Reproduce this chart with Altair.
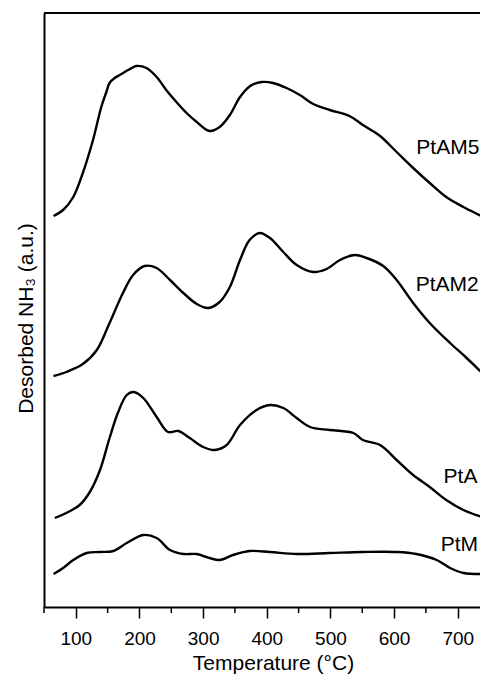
import altair as alt
import pandas as pd

# ---- data (temperature in °C, signal in a.u.) ----
series_names = ["PtAM5", "PtAM2", "PtA", "PtM"]

t_ptam5 = [65, 80, 96, 111, 127, 140, 148, 153, 161, 169, 185, 195, 211, 227, 242, 258, 274, 290, 310, 326,
           342, 358, 374, 392, 410, 431, 452, 473, 499, 530, 551, 578, 604, 630, 656, 682, 709, 740]
s_ptam5 = [391, 397, 410, 434, 467, 500, 515, 524, 529, 532, 538, 541, 539, 530, 517, 505, 494, 485, 476, 480,
           492, 510, 521, 525, 524, 519, 512, 503, 497, 491, 482, 471, 455, 439, 424, 410, 400, 390]

t_ptam2 = [65, 85, 111, 133, 153, 174, 190, 208, 227, 248, 269, 290, 308, 326, 342, 358, 373, 389,
           405, 426, 447, 473, 494, 515, 538, 557, 583, 604, 630, 656, 688, 714, 740]
s_ptam2 = [231, 235, 243, 257, 284, 314, 332, 341, 339, 327, 314, 303, 299, 305, 320, 347, 367, 374,
           369, 355, 342, 335, 338, 347, 352, 349, 341, 327, 304, 284, 264, 249, 233]

t_pta = [67, 85, 106, 122, 138, 153, 166, 180, 191, 206, 227, 245, 261, 279, 300, 318, 337, 358,
         384, 405, 426, 447, 468, 499, 536, 551, 578, 604, 630, 656, 682, 709, 743]
s_pta = [89, 94, 102, 115, 137, 169, 194, 212, 215, 209, 190, 175, 176, 169, 160, 157, 162, 182,
         197, 202, 199, 189, 180, 177, 174, 167, 162, 147, 132, 120, 107, 97, 89]

t_ptm = [65, 80, 96, 117, 138, 159, 180, 206, 227, 248, 269, 290, 310, 326, 347, 373, 405, 447,
         499, 551, 604, 635, 667, 688, 709, 743]
s_ptm = [33, 39, 47, 54, 55, 56, 64, 72, 69, 57, 53, 53, 49, 47, 52, 56, 55, 53,
         54, 55, 55, 53, 47, 39, 34, 33]

label_texts = ["PtAM5", "PtAM2", "PtA", "PtM"]
label_temps = [734, 733, 731, 732]
label_signals = [459, 322, 130, 62]

major_ticks = [100, 200, 300, 400, 500, 600, 700]
minor_ticks = [50, 150, 250, 350, 450, 550, 650]

# ---- tables ----
rows = []
for name, ts, ss in zip(series_names, [t_ptam5, t_ptam2, t_pta, t_ptm],
                        [s_ptam5, s_ptam2, s_pta, s_ptm]):
    for t, s in zip(ts, ss):
        rows.append({"series": name, "T": t, "S": s})
df = pd.DataFrame(rows)
labels_df = pd.DataFrame({"label": label_texts, "T": label_temps, "S": label_signals})
minor_df = pd.DataFrame({"T": minor_ticks})

FONT = "Liberation Sans"
W, H = 436, 594

x_scale = alt.Scale(domain=[50, 735], nice=False, zero=False)
y_scale = alt.Scale(domain=[0, 594], nice=False, zero=False)

x_axis = alt.Axis(
    values=major_ticks, title="Temperature (°C)", grid=False,
    domainColor="black", domainWidth=2, tickColor="black", tickWidth=1.5, tickSize=11,
    labelFont=FONT, labelFontSize=19, labelColor="black", labelPadding=11,
    titleFont=FONT, titleFontSize=21, titleFontWeight="normal", titleColor="black",
    titleX=229, titleY=62, titleBaseline="alphabetic", titleAlign="center",
)
y_axis = alt.Axis(
    labels=False, ticks=False, grid=False, title="Desorbed NH₃ (a.u.)",
    domainColor="black", domainWidth=2,
    titleFont=FONT, titleFontSize=21, titleFontWeight="normal", titleColor="black",
    titleX=-12, titleY=305, titleAngle=270, titleBaseline="alphabetic", titleAlign="center",
)

lines = alt.Chart(df).mark_line(
    color="black", strokeWidth=2.4, interpolate="catmull-rom", clip=True
).encode(
    x=alt.X("T:Q", scale=x_scale, axis=x_axis),
    y=alt.Y("S:Q", scale=y_scale, axis=y_axis),
    detail="series:N",
)

minor = alt.Chart(minor_df).mark_rule(color="black", strokeWidth=1.5).encode(
    x=alt.X("T:Q", scale=x_scale, axis=x_axis),
    y=alt.value(H),
    y2=alt.value(H + 6),
)

top_spine = alt.Chart(minor_df).mark_rule(color="black", strokeWidth=2).encode(
    x=alt.value(0), x2=alt.value(W), y=alt.value(0)
)

labels = alt.Chart(labels_df).mark_text(
    font=FONT, fontSize=21, color="black", align="right", baseline="middle"
).encode(
    x=alt.X("T:Q", scale=x_scale, axis=x_axis),
    y=alt.Y("S:Q", scale=y_scale, axis=y_axis),
    text="label:N",
)

chart = alt.layer(lines, minor, top_spine, labels).properties(
    width=W, height=H,
    padding={"left": 36, "top": 5, "right": 0, "bottom": 67},
    autosize=alt.AutoSizeParams(type="none"),
).configure_view(stroke=None).configure(background="white")

chart.save("out.html", embed_options={"renderer": "svg", "actions": False})
